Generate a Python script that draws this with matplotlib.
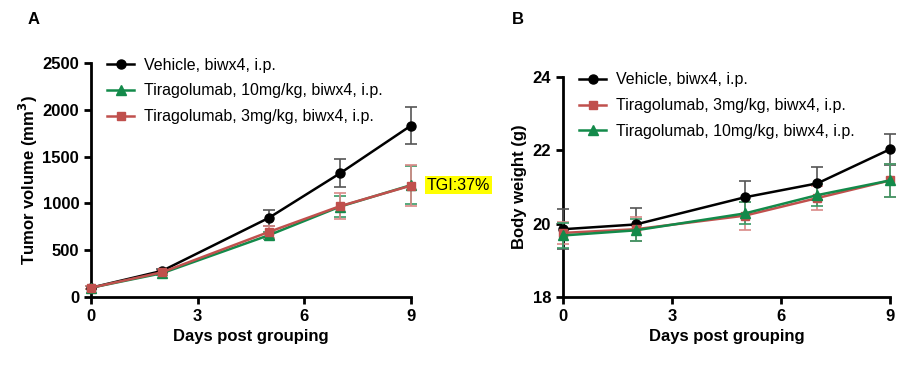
import matplotlib
matplotlib.use("Agg")
import matplotlib.pyplot as plt
from matplotlib.lines import Line2D

plt.rcParams['font.family'] = ['Liberation Sans', 'DejaVu Sans']

days = [0, 2, 5, 7, 9]

# Panel A: tumor volume
tv_vehicle = [100, 280, 845, 1320, 1830]
tv_vehicle_err = [15, 20, 85, 150, 200]
tv_10mg = [100, 255, 660, 965, 1195]
tv_10mg_err = [15, 15, 40, 110, 205]
tv_3mg = [100, 265, 695, 970, 1190]
tv_3mg_err = [15, 15, 60, 140, 215]

# Panel B: body weight
bw_vehicle = [19.85, 19.98, 20.72, 21.10, 22.03]
bw_vehicle_err = [0.55, 0.45, 0.45, 0.45, 0.42]
bw_3mg = [19.75, 19.85, 20.22, 20.70, 21.18]
bw_3mg_err = [0.30, 0.32, 0.38, 0.32, 0.45]
bw_10mg = [19.68, 19.82, 20.28, 20.78, 21.18]
bw_10mg_err = [0.35, 0.30, 0.30, 0.30, 0.45]

xticks = [0, 3, 6, 9]
tv_yticks = [0, 500, 1000, 1500, 2000, 2500]
bw_yticks = [18, 20, 22, 24]

c_black = '#000000'
c_green = '#138a4a'
c_red = '#c0504d'

fig = plt.figure(figsize=(9.07, 3.70), dpi=100)
axA = fig.add_axes([0.1003, 0.197, 0.3527, 0.633])
axB = fig.add_axes([0.6207, 0.197, 0.3606, 0.595])

def style(ax):
    for s in ['top', 'right']:
        ax.spines[s].set_visible(False)
    for s in ['left', 'bottom']:
        ax.spines[s].set_linewidth(2)
    ax.tick_params(width=2, length=5, direction='out', labelsize=12)
    for lab in ax.get_xticklabels() + ax.get_yticklabels():
        lab.set_fontweight('bold')

def series(ax, y, e, color, marker, ms, ecolor):
    ax.errorbar(days, y, yerr=e, color=color, marker=marker, markersize=ms,
                linewidth=1.8, elinewidth=1.2, ecolor=ecolor, capsize=4,
                capthick=1.2, clip_on=False, zorder=3)
    return Line2D([], [], color=color, marker=marker, markersize=ms, linewidth=1.8)

def legend(ax, handles, labels):
    ax.legend(handles, labels, loc='upper left', bbox_to_anchor=(0.03, 1.05),
              frameon=False, fontsize=11.5, handlelength=1.7, handletextpad=0.6,
              labelspacing=0.68, borderaxespad=0)

hv = series(axA, tv_vehicle, tv_vehicle_err, c_black, 'o', 6.5, '#555555')
h10 = series(axA, tv_10mg, tv_10mg_err, c_green, '^', 6.5, '#3a9a66')
h3 = series(axA, tv_3mg, tv_3mg_err, c_red, 's', 6, '#d98a88')
axA.set_xlim(0, 9)
axA.set_ylim(0, 2500)
axA.set_xticks(xticks)
axA.set_yticks(tv_yticks)
axA.set_xlabel('Days post grouping', fontsize=12, fontweight='bold')
axA.set_ylabel('Tumor volume (mm$^\\mathbf{3}$)', fontsize=12, fontweight='bold', labelpad=2)
style(axA)
legend(axA, [hv, h10, h3], ['Vehicle, biwx4, i.p.', 'Tiragolumab, 10mg/kg, biwx4, i.p.',
                             'Tiragolumab, 3mg/kg, biwx4, i.p.'])
axA.text(1.05, 1195, 'TGI:37%', transform=axA.get_yaxis_transform(), fontsize=11.5,
         va='center', ha='left', bbox=dict(facecolor='#ffff00', edgecolor='none', pad=1))

hv = series(axB, bw_vehicle, bw_vehicle_err, c_black, 'o', 6.5, '#555555')
h3 = series(axB, bw_3mg, bw_3mg_err, c_red, 's', 6, '#d98a88')
h10 = series(axB, bw_10mg, bw_10mg_err, c_green, '^', 6.5, '#3a9a66')
axB.set_xlim(0, 9)
axB.set_ylim(18, 24)
axB.set_xticks(xticks)
axB.set_yticks(bw_yticks)
axB.set_xlabel('Days post grouping', fontsize=12, fontweight='bold')
axB.set_ylabel('Body weight (g)', fontsize=12, fontweight='bold')
style(axB)
legend(axB, [hv, h3, h10], ['Vehicle, biwx4, i.p.', 'Tiragolumab, 3mg/kg, biwx4, i.p.',
                             'Tiragolumab, 10mg/kg, biwx4, i.p.'])

fig.text(28/907, 1-20/370, 'A', fontsize=12, fontweight='bold', va='center')
fig.text(512/907, 1-20/370, 'B', fontsize=12, fontweight='bold', va='center')

fig.savefig('out.png', dpi=100)
